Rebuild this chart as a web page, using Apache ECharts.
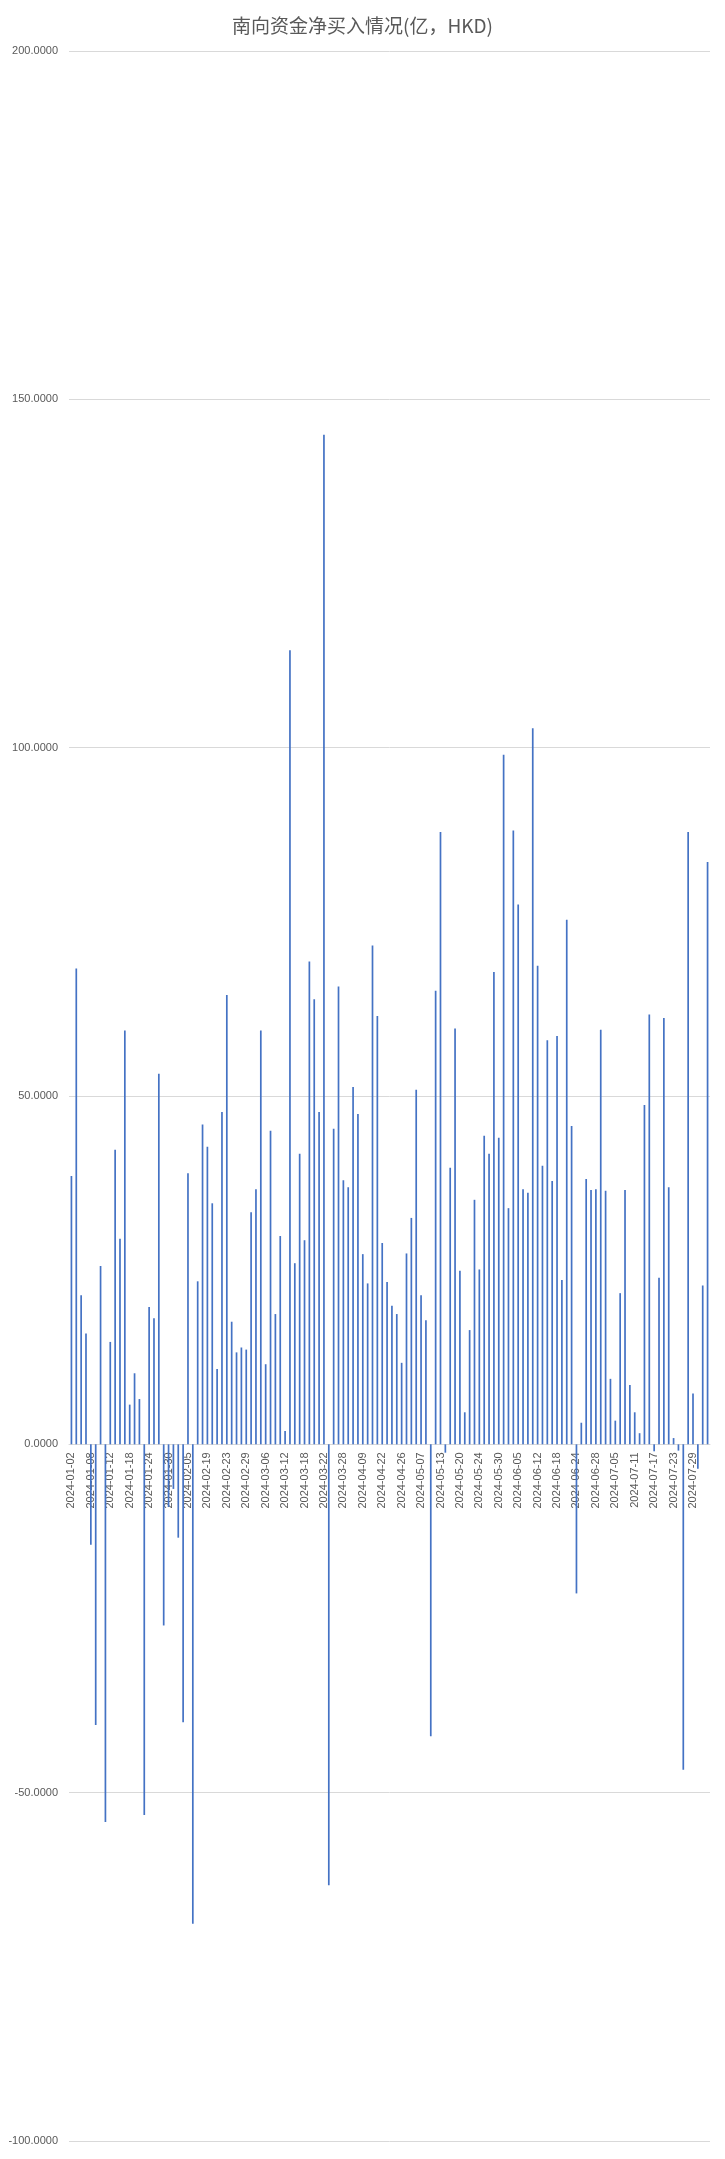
<!DOCTYPE html>
<html>
<head>
<meta charset="utf-8">
<script src="https://cdn.jsdelivr.net/npm/echarts@6/dist/echarts.min.js"></script>
<style>
html,body{margin:0;padding:0;background:#fff;}
#chart{width:725px;height:2159px;}
</style>
</head>
<body>
<div id="chart"></div>
<script>
const titleText = '南向资金净买入情况(亿，HKD)';

const dates = [
'2024-01-02','2024-01-03','2024-01-04','2024-01-05','2024-01-08','2024-01-09','2024-01-10','2024-01-11','2024-01-12','2024-01-15',
'2024-01-16','2024-01-17','2024-01-18','2024-01-19','2024-01-22','2024-01-23','2024-01-24','2024-01-25','2024-01-26','2024-01-29',
'2024-01-30','2024-01-31','2024-02-01','2024-02-02','2024-02-05','2024-02-06','2024-02-07','2024-02-08','2024-02-19','2024-02-20',
'2024-02-21','2024-02-22','2024-02-23','2024-02-26','2024-02-27','2024-02-28','2024-02-29','2024-03-01','2024-03-04','2024-03-05',
'2024-03-06','2024-03-07','2024-03-08','2024-03-11','2024-03-12','2024-03-13','2024-03-14','2024-03-15','2024-03-18','2024-03-19',
'2024-03-20','2024-03-21','2024-03-22','2024-03-25','2024-03-26','2024-03-27','2024-03-28','2024-04-02','2024-04-03','2024-04-08',
'2024-04-09','2024-04-10','2024-04-11','2024-04-12','2024-04-22','2024-04-23','2024-04-24','2024-04-25','2024-04-26','2024-04-29',
'2024-04-30','2024-05-06','2024-05-07','2024-05-08','2024-05-09','2024-05-10','2024-05-13','2024-05-14','2024-05-16','2024-05-17',
'2024-05-20','2024-05-21','2024-05-22','2024-05-23','2024-05-24','2024-05-27','2024-05-28','2024-05-29','2024-05-30','2024-05-31',
'2024-06-03','2024-06-04','2024-06-05','2024-06-06','2024-06-07','2024-06-11','2024-06-12','2024-06-13','2024-06-14','2024-06-17',
'2024-06-18','2024-06-19','2024-06-20','2024-06-21','2024-06-24','2024-06-25','2024-06-26','2024-06-27','2024-06-28','2024-07-02',
'2024-07-03','2024-07-04','2024-07-05','2024-07-08','2024-07-09','2024-07-10','2024-07-11','2024-07-12','2024-07-15','2024-07-16',
'2024-07-17','2024-07-18','2024-07-19','2024-07-22','2024-07-23','2024-07-24','2024-07-25','2024-07-26','2024-07-29','2024-07-30',
'2024-07-31','2024-08-01'
];

const netBuy = [
38.5, 68.3, 21.4, 15.9, -14.4, -40.3, 25.6, -54.2, 14.7, 42.3,
29.5, 59.4, 5.7, 10.2, 6.5, -53.2, 19.7, 18.1, 53.2, -26.0,
-9.0, -6.4, -13.4, -39.9, 38.9, -68.8, 23.4, 45.9, 42.7, 34.6,
10.8, 47.7, 64.5, 17.6, 13.2, 13.9, 13.6, 33.3, 36.6, 59.4,
11.5, 45.0, 18.7, 29.9, 1.9, 114.0, 26.0, 41.7, 29.3, 69.3,
63.9, 47.7, 144.9, -63.3, 45.3, 65.7, 37.9, 36.9, 51.3, 47.4,
27.3, 23.1, 71.6, 61.5, 28.9, 23.3, 19.9, 18.7, 11.7, 27.4,
32.5, 50.9, 21.4, 17.8, -41.9, 65.1, 87.9, -1.2, 39.7, 59.7,
24.9, 4.6, 16.4, 35.1, 25.1, 44.3, 41.7, 67.8, 44.0, 99.0,
33.9, 88.1, 77.5, 36.6, 36.1, 102.8, 68.7, 40.0, 58.0, 37.8,
58.6, 23.6, 75.3, 45.7, -21.4, 3.1, 38.1, 36.5, 36.6, 59.5,
36.4, 9.4, 3.4, 21.7, 36.5, 8.5, 4.6, 1.6, 48.7, 61.7,
-1.0, 23.9, 61.2, 36.9, 0.9, -0.9, -46.7, 87.9, 7.3, -3.5,
22.8, 83.6
];

const yMin = -100, yMax = 200, yStep = 50;

const W = 725, H = 2159;
const gridTop = 51, gridBottom = 18;
const plotH = H - gridTop - gridBottom;
// shift the category axis up from the grid bottom to the value 0
const zeroOffset = -plotH * (0 - yMin) / (yMax - yMin);

const chart = echarts.init(document.getElementById('chart'), null, {renderer: 'canvas'});
chart.setOption({
  backgroundColor: '#ffffff',
  animation: false,
  title: {
    text: titleText,
    left: 'center',
    top: 11,
    textStyle: {
      fontFamily: '"Noto Sans CJK SC", "Liberation Sans", sans-serif',
      fontSize: 19,
      fontWeight: 'normal',
      color: '#595959'
    }
  },
  grid: {left: 69, right: 15, top: gridTop, bottom: gridBottom, containLabel: false, outerBoundsMode: 'none'},
  xAxis: {
    type: 'category',
    data: dates,
    position: 'bottom',
    offset: zeroOffset,
    boundaryGap: true,
    axisLine: {show: true, onZero: false, lineStyle: {color: '#d9d9d9', width: 1}},
    axisTick: {show: false},
    axisLabel: {
      interval: 3,
      rotate: 90,
      margin: 8,
      fontSize: 11,
      color: '#595959',
      fontFamily: '"Liberation Sans", Arial, sans-serif'
    },
    splitLine: {show: false}
  },
  yAxis: {
    type: 'value',
    min: yMin,
    max: yMax,
    interval: yStep,
    axisLine: {show: false},
    axisTick: {show: false},
    axisLabel: {
      fontSize: 11,
      color: '#595959',
      margin: 11,
      fontFamily: '"Liberation Sans", Arial, sans-serif',
      formatter: v => v.toFixed(4)
    },
    splitLine: {lineStyle: {color: '#d9d9d9', width: 1}}
  },
  series: [{
    type: 'bar',
    data: netBuy,
    barWidth: 1.7,
    itemStyle: {color: '#4472C4'}
  }]
});
</script>
</body>
</html>
